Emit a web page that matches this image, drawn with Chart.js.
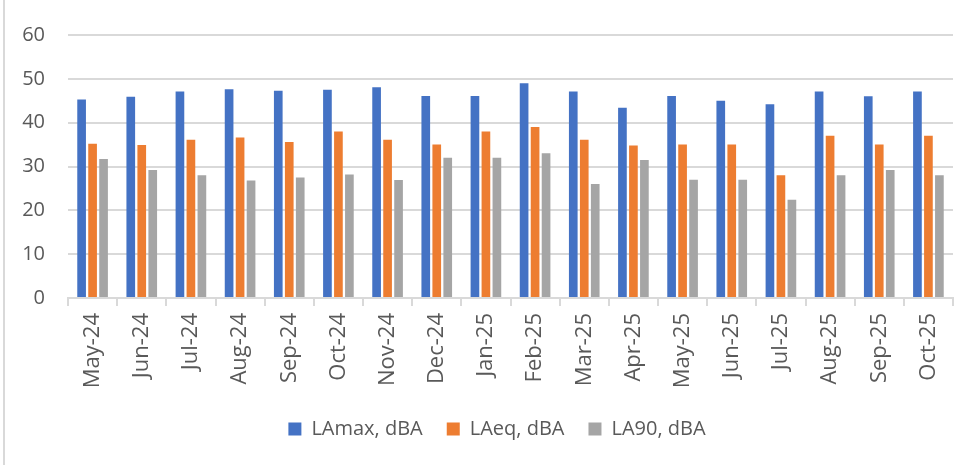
<!DOCTYPE html>
<html>
<head>
<meta charset="utf-8">
<script src="https://cdn.jsdelivr.net/npm/chart.js@4.4.0/dist/chart.umd.min.js"></script>
<style>
  html, body { margin: 0; padding: 0; background: #fff; }
  #wrap { position: relative; width: 972px; height: 465px; }
  #frame { position: absolute; left: 3px; top: 0; width: 2px; height: 465px; background: #d9d9d9; }
  canvas { position: absolute; left: 0; top: 0; }
</style>
</head>
<body>
<div id="wrap">
  <canvas id="noiseChart" width="972" height="465"></canvas>
  <div id="frame"></div>
</div>
<script>
// months on the x axis
const months = ["May-24", "Jun-24", "Jul-24", "Aug-24", "Sep-24", "Oct-24", "Nov-24", "Dec-24", "Jan-25",
  "Feb-25", "Mar-25", "Apr-25", "May-25", "Jun-25", "Jul-25", "Aug-25", "Sep-25", "Oct-25"];

// values (dBA)
const laMax = [45.3, 45.9, 47.1, 47.6, 47.3, 47.5, 48.1, 46.1, 46.1, 49.0, 47.1, 43.4, 46.1, 45.0, 44.2, 47.1, 46.0, 47.1];
const laEq  = [35.2, 34.9, 36.1, 36.6, 35.6, 38.0, 36.1, 35.0, 38.0, 39.0, 36.1, 34.8, 35.0, 35.0, 28.0, 37.0, 35.0, 37.0];
const la90  = [31.7, 29.2, 28.0, 26.8, 27.5, 28.2, 26.9, 32.0, 32.0, 33.0, 26.0, 31.5, 27.0, 27.0, 22.4, 28.0, 29.2, 28.0];

const seriesNames = ["LAmax, dBA", "LAeq, dBA", "LA90, dBA"];
const seriesColors = ["#4472c4", "#ed7d31", "#a5a5a5"];

const yMin = 0;
const yMax = 60;
const yStep = 10;

const textColor = "#595959";
const gridColor = "#d9d9d9";
const fontFamily = "'Open Sans', 'Noto Sans', sans-serif";

const allSeries = [laMax, laEq, la90];

// excel centres the legend a bit right of the canvas centre
const legendShift = {
    id: "legendShift",
    afterLayout(chart) {
        chart.legend.left += 20.5;
        chart.legend.right += 20.5;
    },
};

const ctx = document.getElementById("noiseChart");

const chart = new Chart(ctx, {
    type: "bar",
    data: {
        labels: months,
        datasets: allSeries.map((vals, i) => ({
            label: seriesNames[i],
            data: vals,
            backgroundColor: seriesColors[i],
            borderWidth: 0,
            categoryPercentage: 0.67,
            barPercentage: 0.79,
        })),
    },
    options: {
        responsive: false,
        devicePixelRatio: 1,
        animation: false,
        layout: {
            padding: { top: 33, left: 0, right: 19, bottom: 16 },
        },
        scales: {
            x: {
                offset: true,
                grid: {
                    offset: true,
                    drawOnChartArea: false,
                    drawTicks: true,
                    tickLength: 8,
                    color: gridColor,
                    lineWidth: 2,
                },
                border: { display: true, color: gridColor, width: 2 },
                ticks: {
                    color: textColor,
                    font: { family: fontFamily, size: 22 },
                    minRotation: 90,
                    maxRotation: 90,
                    autoSkip: false,
                    padding: 7,
                },
                afterFit: (axis) => { axis.height = 97; },
            },
            y: {
                min: yMin,
                max: yMax,
                grid: {
                    drawTicks: false,
                    color: gridColor,
                    lineWidth: 2,
                },
                border: { display: false },
                ticks: {
                    stepSize: yStep,
                    color: textColor,
                    font: { family: fontFamily, size: 20 },
                    padding: 23,
                },
                afterFit: (axis) => { axis.width = 68; },
            },
        },
        plugins: {
            legend: {
                position: "bottom",
                labels: {
                    color: textColor,
                    font: { family: fontFamily, size: 20 },
                    boxWidth: 13,
                    boxHeight: 13,
                    padding: 24,
                },
            },
            tooltip: { enabled: false },
            title: { display: false },
        },
    },
    plugins: [legendShift],
});
</script>
</body>
</html>
